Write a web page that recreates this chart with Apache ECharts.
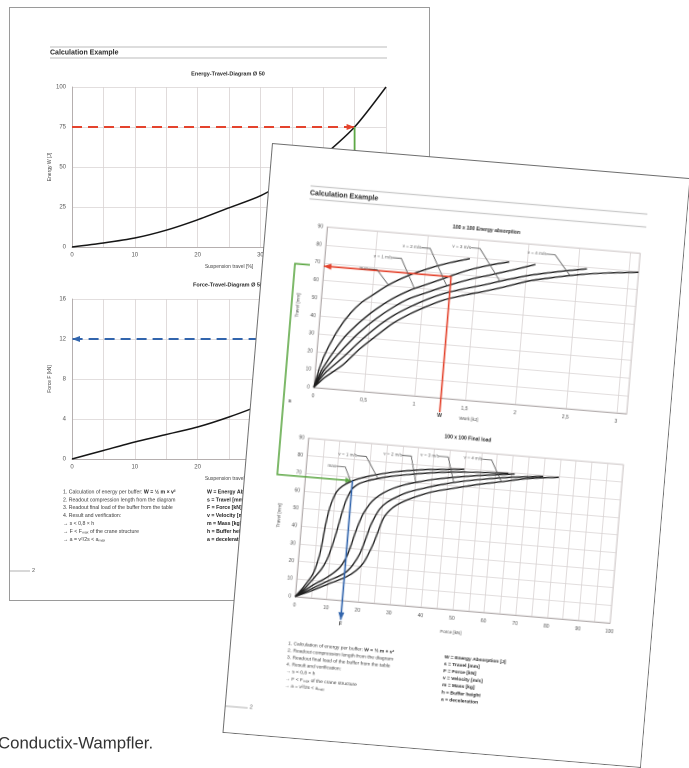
<!DOCTYPE html>
<html><head><meta charset="utf-8">
<script src="https://cdn.jsdelivr.net/npm/echarts/dist/echarts.min.js"></script>
<style>
html,body{margin:0;padding:0;background:#fff;overflow:hidden;width:689px;height:768px}
#main{position:absolute;left:0;top:0;width:689px;height:768px}
#front{position:absolute;left:272px;top:143px;width:420px;height:592px;transform-origin:0 0;transform:rotate(4.8deg)}
</style></head><body>
<div id="main"></div><div id="front"></div>
<script>
// ================= DATA =================
// Back page: Energy-Travel-Diagram / Force-Travel-Diagram (Ø 50)
const travelPct   = [0, 5, 10, 15, 20, 25, 30, 35, 40, 45, 50];
const energyJ     = [0, 2.5, 5.6, 10.5, 17, 24.5, 32, 43, 57, 75, 100];
const forceBackKN = [0, 0.85, 1.7, 2.45, 3.2, 4.2, 5.4, 7, 9.2, 12, 15];
const travelTicks = [0, 10, 20, 30, 40, 50];
const energyTicks = [0, 25, 50, 75, 100];
const forceBackTicks = [0, 4, 8, 12, 16];
const energyTarget = 75, travelResult = 45, forceResult = 12;

// Front page: 100 x 100 Energy absorption  [work kJ, travel mm]
const eaMax = [[0,0],[0.05,13],[0.1,21.5],[0.2,34],[0.3,43],[0.4,49.5],[0.5,54],[0.65,60.5],[0.85,67],[1.05,72],[1.25,76],[1.43,79]];
const eaV1  = [[0,0],[0.05,8],[0.1,14],[0.25,28.5],[0.4,38.5],[0.55,46.5],[0.7,53],[0.87,58.7],[1.0,62],[1.2,67],[1.4,72],[1.63,76.3],[1.82,79]];
const eaV2  = [[0,0],[0.05,6],[0.1,11],[0.26,23],[0.4,32.5],[0.56,41.3],[0.72,48.5],[0.87,54],[1.05,58.5],[1.2,62.2],[1.45,67.5],[1.64,70.8],[1.85,74.5],[2.08,78.8]];
const eaV3  = [[0,0],[0.05,4.5],[0.1,8.5],[0.27,18.5],[0.42,28],[0.57,36.5],[0.72,43.5],[0.88,49.3],[1.05,54.5],[1.2,58.3],[1.4,62],[1.6,65.2],[1.8,68.8],[2.03,72.5],[2.3,75.8],[2.59,78.8]];
const eaV4  = [[0,0],[0.05,3],[0.1,6],[0.27,14],[0.42,23.5],[0.58,32],[0.73,39.5],[0.89,45.5],[1.05,50.5],[1.2,54.6],[1.4,58.3],[1.6,61.5],[1.8,65],[2.04,69.5],[2.3,72.8],[2.55,75.5],[2.8,77.5],[3.1,79.3]];
const workTicks = [0, 0.5, 1, 1.5, 2, 2.5, 3];
const workAxisMax = 3.1;

// Front page: 100 x 100 Final load  [force kN, travel mm]
const flMax = [[0,0],[2.5,6],[5,13.5],[6,19.5],[6.7,25.5],[7.2,33],[7.6,40.5],[8.1,47],[8.6,52],[9.4,57],[10.3,61],[12,64.5],[14.3,67.3],[17,69.5],[19.4,71],[24,73.3],[28.7,75.2],[34,76.8],[39,78],[45,79],[50,79.8]];
const flV1  = [[0,0],[3,5.5],[5.7,12],[7.5,16.5],[9,22],[10,28],[11,35.5],[11.8,42.5],[12.5,49],[13.5,56.5],[15,63],[17,66.5],[19.5,68.5],[23,70.5],[26.7,72.2],[32,74],[40,76.3],[50,78.2],[64,79.6]];
const flV2  = [[0,0],[5.4,7.4],[8.5,11],[11.4,15],[13.5,19],[15.2,25],[16.2,31],[17.2,38.3],[18.2,44.5],[19.3,50],[21,55.5],[22.6,59],[25,62.5],[28.1,65.7],[32,68.5],[36.3,70.7],[41,72.8],[46.7,74.7],[55,77],[66,79.5]];
const flV3  = [[0,0],[5,5.2],[10.6,11],[13.5,13.8],[15.6,16.5],[17.5,21],[19.3,27.4],[20.6,35],[21.8,43],[23,48.5],[24.4,53.5],[26.5,57.5],[29.4,61],[33,64.3],[37.6,67.1],[43,70],[48.9,72.6],[56,75],[65,77.5],[75,79.5]];
const flV4  = [[0,0],[5,4],[10,8.5],[15.7,13.6],[18.5,17.5],[20.6,22],[22,27.5],[23.3,33.7],[24.5,41],[25.7,48],[27.5,53],[29.6,56.4],[33,60],[36.7,63],[41,65.8],[47,68.5],[55,72],[62,74.5],[70,77.5],[80,79.7]];
const forceTicks = [0,10,20,30,40,50,60,70,80,90,100];
const travelMmTicks = [0,10,20,30,40,50,60,70,80,90];

const curveNames = ['max', 'v = 1 m/s', 'v = 2 m/s', 'v = 3 m/s', 'v = 4 m/s'];
const eaLabelAt = [[0.65,60.5],[0.91,59.7],[1.225,62.7],[1.745,67.8],[2.43,74.2]];
const flLabelAt = [[14.5,67.5],[23,70.5],[35,70],[47,71.8],[62,74.5]];
const workW = 1.26, travelS = 68, forceF = 15;
const workTail = -8, forceTail = -11;

const stepsText = [
  '1. Calculation of energy per buffer: {b|W = ½ m × v²}',
  '2. Readout compression length from the diagram',
  '3. Readout final load of the buffer from the table',
  '4. Result and verification:',
  '→ s < 0,8 × h',
  '→ F < Fₘₐₓ of the crane structure',
  '→ a = v²/2s < aₘₐₓ'
];
const legendText = ['W = Energy Absorption [J]','s = Travel [mm]','F = Force [kN]','v = Velocity [m/s]','m = Mass [kg]','h = Buffer height','a = deceleration'];

// ================= STYLE =================
const NARROW = "'Liberation Sans Narrow','Liberation Sans',Arial,sans-serif";
const RED = '#e4432d', BLUE = '#3265ad', GREEN = '#5ea845', INK = '#161616';
const GRIDC = '#d9d3d3';
const zip = (xs, ys) => xs.map((x, i) => [x, ys[i]]);
const isTick = (ticks) => (v) => ticks.some(t => Math.abs(t - v) < 1e-6);

function valAxis(o) {
  const show = isTick(o.labels);
  return {
    type: 'value', gridIndex: o.grid, min: o.labels[0], max: o.max, interval: o.step,
    axisLine: { show: true, onZero: false, lineStyle: { color: '#b5afaf', width: 1 } },
    axisTick: { show: false },
    splitLine: { show: true, lineStyle: { color: GRIDC, width: 0.8 } },
    axisLabel: { fontSize: o.fs, color: '#555', margin: o.margin, fontFamily: NARROW,
      formatter: v => show(v) ? String(v).replace('.', ',') : '' },
    name: o.name, nameLocation: 'middle', nameGap: o.gap, nameRotate: o.rot || 0,
    nameTextStyle: { fontSize: o.nfs, color: '#444', fontFamily: NARROW }
  };
}
function txt(x, y, text, fs, extra) {
  return Object.assign({ type: 'text', x, y, silent: true,
    style: Object.assign({ text, fontSize: fs, fontFamily: NARROW, fill: '#333', verticalAlign: 'middle' }, extra || {}) });
}
function hline(x1, x2, y, color, w) {
  return { type: 'line', silent: true, shape: { x1, y1: y, x2, y2: y }, style: { stroke: color, lineWidth: w } };
}
function arrowEnd(value, rot, off) {
  return { value, symbol: 'triangle', symbolSize: [6, 8], symbolRotate: rot, symbolOffset: off };
}

// ================= BACK PAGE =================
const main = echarts.init(document.getElementById('main'), null, { width: 689, height: 768, devicePixelRatio: 2 });
const backGraphic = [
  { type: 'rect', silent: true, shape: { x: 9.5, y: 7.5, width: 420, height: 593 }, style: { fill: '#fff', stroke: '#9a9a9a', lineWidth: 1 } },
  hline(50, 387, 47, '#c9c9c9', 1.3), hline(50, 387, 58, '#c9c9c9', 1.3),
  txt(50, 52.5, 'Calculation Example', 7, { fontWeight: 'bold', fill: '#2a2a2a' }),
  txt(228, 74, 'Energy-Travel-Diagram Ø 50', 5.5, { fontWeight: 'bold', align: 'center', fill: '#2a2a2a' }),
  txt(228, 285, 'Force-Travel-Diagram Ø 50', 5.5, { fontWeight: 'bold', align: 'center', fill: '#2a2a2a' }),
  hline(9, 30, 571, '#999', 0.8),
  txt(32, 570.5, '2', 5.5, { fill: '#555' }),
  txt(-2, 744, 'Conductix-Wampfler.', 16.8, { fill: '#333' })
];
stepsText.forEach((t, i) => backGraphic.push(txt(63, 492 + 7.9 * i, t, 5.2, { fill: '#3a3a3a', rich: { b: { fontWeight: 'bold', fontSize: 5.2, fontFamily: NARROW, fill: '#222' } } })));
legendText.forEach((t, i) => backGraphic.push(txt(207, 492 + 7.9 * i, t, 5.2, { fontWeight: 'bold', fill: '#222' })));

main.setOption({
  animation: false,
  graphic: backGraphic,
  grid: [
    { left: 72, top: 87, width: 314, height: 160, show: true, borderColor: GRIDC, borderWidth: 0.8, outerBoundsMode: 'none' },
    { left: 72, top: 299, width: 314, height: 160, show: true, borderColor: GRIDC, borderWidth: 0.8, outerBoundsMode: 'none' }
  ],
  xAxis: [
    valAxis({ grid: 0, labels: travelTicks, max: 50, step: 5, fs: 6, margin: 5, name: 'Suspension travel [%]', gap: 17, nfs: 5 }),
    valAxis({ grid: 1, labels: travelTicks, max: 50, step: 5, fs: 6, margin: 5, name: 'Suspension travel [%]', gap: 17, nfs: 5 })
  ],
  yAxis: [
    valAxis({ grid: 0, labels: energyTicks, max: 100, step: 25, fs: 6, margin: 6, name: 'Energy W [J]', gap: 20, rot: 90, nfs: 5 }),
    valAxis({ grid: 1, labels: forceBackTicks, max: 16, step: 4, fs: 6, margin: 6, name: 'Force F [kN]', gap: 20, rot: 90, nfs: 5 })
  ],
  series: [
    { type: 'line', xAxisIndex: 0, yAxisIndex: 0, data: zip(travelPct, energyJ), smooth: 0.25, showSymbol: false, lineStyle: { color: INK, width: 1.5 }, z: 3 },
    { type: 'line', xAxisIndex: 1, yAxisIndex: 1, data: zip(travelPct, forceBackKN), smooth: 0.25, showSymbol: false, lineStyle: { color: INK, width: 1.5 }, z: 3 },
    { type: 'line', xAxisIndex: 0, yAxisIndex: 0, showSymbol: true, symbol: 'none',
      data: [[0, energyTarget], arrowEnd([travelResult, energyTarget], -90, [-4, 0])],
      lineStyle: { color: RED, width: 2, type: [10, 6] }, itemStyle: { color: RED }, z: 4 },
    { type: 'line', xAxisIndex: 0, yAxisIndex: 0, showSymbol: false, data: [[travelResult, energyTarget], [travelResult, 0]],
      lineStyle: { color: GREEN, width: 1.8 }, z: 4 },
    { type: 'line', xAxisIndex: 1, yAxisIndex: 1, showSymbol: false, data: [[travelResult, 16], [travelResult, forceResult]],
      lineStyle: { color: GREEN, width: 1.8 }, z: 4 },
    { type: 'line', xAxisIndex: 1, yAxisIndex: 1, showSymbol: true, symbol: 'none',
      data: [[travelResult, forceResult], arrowEnd([0, forceResult], 90, [4, 0])],
      lineStyle: { color: BLUE, width: 2, type: [10, 6] }, itemStyle: { color: BLUE }, z: 4 }
  ]
});

// ================= FRONT PAGE =================
const front = echarts.init(document.getElementById('front'), null, { width: 420, height: 592, devicePixelRatio: 2 });
const eaOffsets = [[-26, -14.5], [-34, -29], [-38, -36], [-41, -31], [-35, -19.5]];
const flOffsets = [[-20, -14], [-32, -21], [-25, -26], [-26, -25], [-30, -21]];
function curve(data, xi) {
  return { type: 'line', xAxisIndex: xi, yAxisIndex: xi, data, smooth: 0.3, showSymbol: false,
    lineStyle: { color: '#1e1e1e', width: 1.35 }, z: 3 };
}
function labelSeries(points, offsets, xi) {
  return { type: 'scatter', xAxisIndex: xi, yAxisIndex: xi, symbolSize: 1, itemStyle: { color: '#444' },
    data: points.map((p, i) => ({ value: p, name: curveNames[i] })),
    label: { show: true, position: 'inside', formatter: '{b}', fontSize: 4.6, fontFamily: NARROW, color: '#333' },
    labelLayout: p => ({ dx: offsets[p.dataIndex][0], dy: offsets[p.dataIndex][1] }),
    labelLine: { show: true, length2: 9, lineStyle: { color: '#555', width: 0.8 } }, z: 6 };
}
front.setOption({
  animation: false,
  grid: [
    { left: 62, top: 79, width: 314, height: 161, show: true, borderColor: '#cbc5c5', borderWidth: 0.8, outerBoundsMode: 'none' },
    { left: 61, top: 291, width: 316, height: 159, show: true, borderColor: '#cbc5c5', borderWidth: 0.8, outerBoundsMode: 'none' }
  ],
  xAxis: [
    valAxis({ grid: 0, labels: workTicks, max: workAxisMax, step: 0.5, fs: 5, margin: 6, name: 'Work [kJ]', gap: 16, nfs: 4.6 }),
    valAxis({ grid: 1, labels: forceTicks, max: 100, step: 5, fs: 5, margin: 6, name: 'Force [kN]', gap: 20, nfs: 4.6 })
  ],
  yAxis: [
    valAxis({ grid: 0, labels: travelMmTicks, max: 90, step: 10, fs: 5, margin: 4, name: 'Travel [mm]', gap: 17, rot: 90, nfs: 4.6 }),
    valAxis({ grid: 1, labels: travelMmTicks, max: 90, step: 10, fs: 5, margin: 4, name: 'Travel [mm]', gap: 18, rot: 90, nfs: 4.6 })
  ],
  series: [
    curve(eaMax, 0), curve(eaV1, 0), curve(eaV2, 0), curve(eaV3, 0), curve(eaV4, 0),
    curve(flMax, 1), curve(flV1, 1), curve(flV2, 1), curve(flV3, 1), curve(flV4, 1),
    labelSeries(eaLabelAt, eaOffsets, 0),
    labelSeries(flLabelAt, flOffsets, 1),
    { type: 'line', xAxisIndex: 0, yAxisIndex: 0, clip: false, showSymbol: true, symbol: 'none',
      data: [
        { value: [workW, workTail], symbol: 'circle', symbolSize: 0.1,
          label: { show: true, position: 'bottom', distance: 1, formatter: 'W', fontSize: 5, fontWeight: 'bold', fontFamily: NARROW, color: '#333' } },
        [workW, travelS],
        arrowEnd([0, travelS], 90, [3.5, 0])
      ],
      lineStyle: { color: RED, width: 1.6 }, itemStyle: { color: RED }, z: 5 },
    { type: 'line', xAxisIndex: 1, yAxisIndex: 1, clip: false, showSymbol: true, symbol: 'none',
      data: [
        [forceF, travelS],
        Object.assign(arrowEnd([forceF, forceTail], 180, [0, -3.5]),
          { label: { show: true, position: 'bottom', distance: 1, formatter: 'F', fontSize: 5, fontWeight: 'bold', fontFamily: NARROW, color: '#333' } })
      ],
      lineStyle: { color: BLUE, width: 1.6 }, itemStyle: { color: BLUE }, z: 5 }
  ]
});

const pA = front.convertToPixel({ gridIndex: 0 }, [0, travelS]);
const pB = front.convertToPixel({ gridIndex: 1 }, [forceF, travelS]);
const gx = pA[0] - 29;
const frontGraphic = [
  { type: 'rect', silent: true, z: -1, shape: { x: 0.5, y: 0.5, width: 419, height: 591 }, style: { fill: '#fff', stroke: '#6e6e6e', lineWidth: 1 } },
  hline(42, 380, 39.5, '#c9c9c9', 1.3), hline(42, 380, 52.5, '#c9c9c9', 1.3),
  txt(42, 46.5, 'Calculation Example', 7, { fontWeight: 'bold', fill: '#2a2a2a' }),
  txt(221, 68.5, '100 x 100 Energy absorption', 5, { fontWeight: 'bold', align: 'center', fill: '#2a2a2a' }),
  txt(220, 278, '100 x 100 Final load', 5, { fontWeight: 'bold', align: 'center', fill: '#2a2a2a' }),
  hline(1, 23, 565, '#999', 0.8),
  txt(25, 564, '2', 5.2, { fill: '#555' }),
  { type: 'polyline', silent: true, z: 10, shape: { points: [[pA[0] - 14, pA[1]], [gx, pA[1]], [gx, pB[1]], [pB[0] - 5, pB[1]]] },
    style: { stroke: GREEN, lineWidth: 1.6, fill: null } },
  { type: 'polygon', silent: true, z: 10, shape: { points: [[pB[0] - 1, pB[1]], [pB[0] - 7, pB[1] - 2.8], [pB[0] - 7, pB[1] + 2.8]] }, style: { fill: GREEN } },
  txt(gx + 5, pA[1] + 0.65 * (pB[1] - pA[1]), 's', 5, { fontWeight: 'bold', fill: '#333' })
];
stepsText.forEach((t, i) => frontGraphic.push(txt(58, 497 + 7.1 * i, t, 4.9, { fill: '#3a3a3a', rich: { b: { fontWeight: 'bold', fontSize: 4.9, fontFamily: NARROW, fill: '#222' } } })));
legendText.forEach((t, i) => frontGraphic.push(txt(215, 497.5 + 7.1 * i, t, 4.9, { fontWeight: 'bold', fill: '#222' })));
front.setOption({ graphic: frontGraphic });
</script>
</body></html>
